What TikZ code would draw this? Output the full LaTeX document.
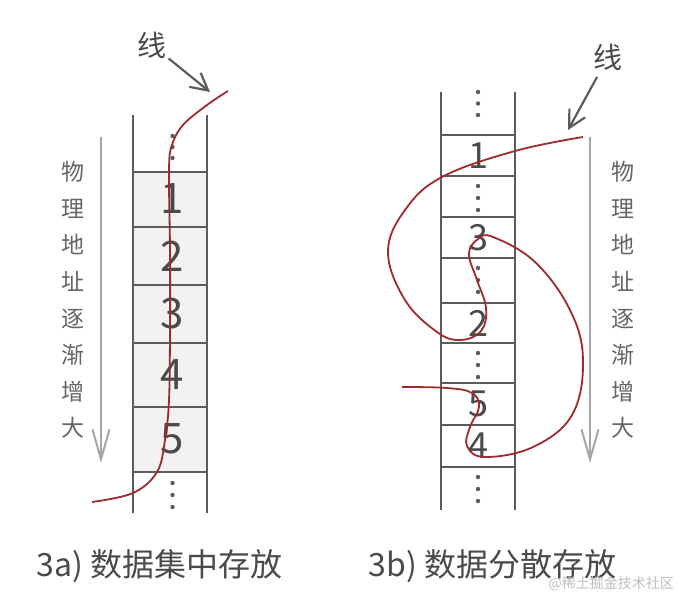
\documentclass[tikz,border=0pt]{standalone}
\usepackage{fontspec}
\setmainfont{Noto Sans CJK SC}
\usetikzlibrary{arrows.meta}
\definecolor{wirered}{HTML}{9E2A2F}
\definecolor{gridgray}{HTML}{5C5C5C}
\definecolor{textgray}{HTML}{4A4A4A}
\definecolor{addrgray}{HTML}{A6A6A6}
\definecolor{cellfill}{HTML}{F2F2F2}

\begin{document}
\begin{tikzpicture}[x=1pt, y=-1pt,
    >={Straight Barb[length=17pt,width=18pt]},
    wire/.style={wirered, line width=1.8pt},
    grid/.style={gridgray, line width=2.2pt},
    addr/.style={addrgray, line width=2pt, -{Straight Barb[length=30pt,width=17pt]}},
    vtext/.style={textgray!85, align=center, font=\fontsize{23}{36.6}\selectfont},
    digit/.style={textgray, inner sep=0pt},
    pointer/.style={gridgray, line width=2.2pt, ->}]
  \useasboundingbox (0,0) rectangle (679,595);
  % 3a: column, data in one block
  \fill[cellfill] (133,171.7) rectangle (207,471.7);
  \draw[grid] (133,115) -- (133,513) (207,115) -- (207,513);
  \foreach \y in {171.7,227,285,343,406.7,471.7}
    \draw[grid] (133,\y) -- (207,\y);
  \foreach \n/\y in {1/199,2/256,3/314,4/375,5/439}
    \node[digit, font=\fontsize{42}{42}\selectfont] (a\n) at (172,\y) {\n};
  \foreach \y in {136,147,158,483,495,507}
    \fill[gridgray] (172.5,\y) circle (2.2pt);
  % address arrow, left
  \node[vtext] (addra) at (73,300) {物\\理\\地\\址\\逐\\渐\\增\\大};
  \draw[addr] (101,137) -- (101,463);
  % wire, left
  \draw[wire] plot[smooth, tension=0.6]
    coordinates {(228,91) (207,105) (183,125) (172,145) (169,170) (170,250) (170,330)
                 (169,400) (165,440) (157,472) (133,493) (92,502)};
  \node[textgray, font=\fontsize{29}{29}\selectfont, inner sep=2pt] (wirea) at (152,45) {线};
  \coordinate (wireatip) at (210,92);
  \draw[pointer] (wirea) -- (wireatip);
  % 3b: column, data scattered
  \draw[grid] (441,92) -- (441,510) (515,92) -- (515,510);
  \foreach \y in {135,176,217,258,303,343,383,425,467}
    \draw[grid] (441,\y) -- (515,\y);
  \foreach \n/\y in {1/156,3/238,2/323,5/404,4/446}
    \node[digit, font=\fontsize{36}{36}\selectfont] (b\n) at (478,\y) {\n};
  \foreach \y in {92,103.5,115, 186,198,210, 268,280,292, 353,365,377, 477,489,501}
    \fill[gridgray] (478,\y) circle (2.2pt);
  % address arrow, right
  \node[vtext] (addrb) at (623,300) {物\\理\\地\\址\\逐\\渐\\增\\大};
  \draw[addr] (590,137) -- (590,463);
  % wire, right
  \draw[wire] plot[smooth, tension=0.65]
    coordinates {(583,137) (515,151) (442,177) (405,210) (388,252) (405,300) (437,332)
                 (460,340) (481,331) (486,308) (477,280) (469,254) (478,239) (493,237)
                 (535,262) (570,310) (583,360) (572,415) (533,447) (485,457) (467,446)
                 (470,427) (479,407) (472,393) (447,388) (402,387)};
  \node[textgray, font=\fontsize{29}{29}\selectfont, inner sep=2pt] (wireb) at (608,57) {线};
  \coordinate (wirebtip) at (568,130);
  \draw[pointer, shorten <=5pt] (wireb) -- (wirebtip);
  % captions
  \node[textgray, anchor=west, font=\fontsize{32}{32}\selectfont] (capa) at (33,566) {3a) 数据集中存放};
  \node[textgray, anchor=west, font=\fontsize{32}{32}\selectfont] (capb) at (365,566) {3b) 数据分散存放};
  \node[gray!50, anchor=east, font=\fontsize{14}{14}\selectfont, inner sep=0pt] (mark) at (674,584) {@稀土掘金技术社区};
\end{tikzpicture}
\end{document}
